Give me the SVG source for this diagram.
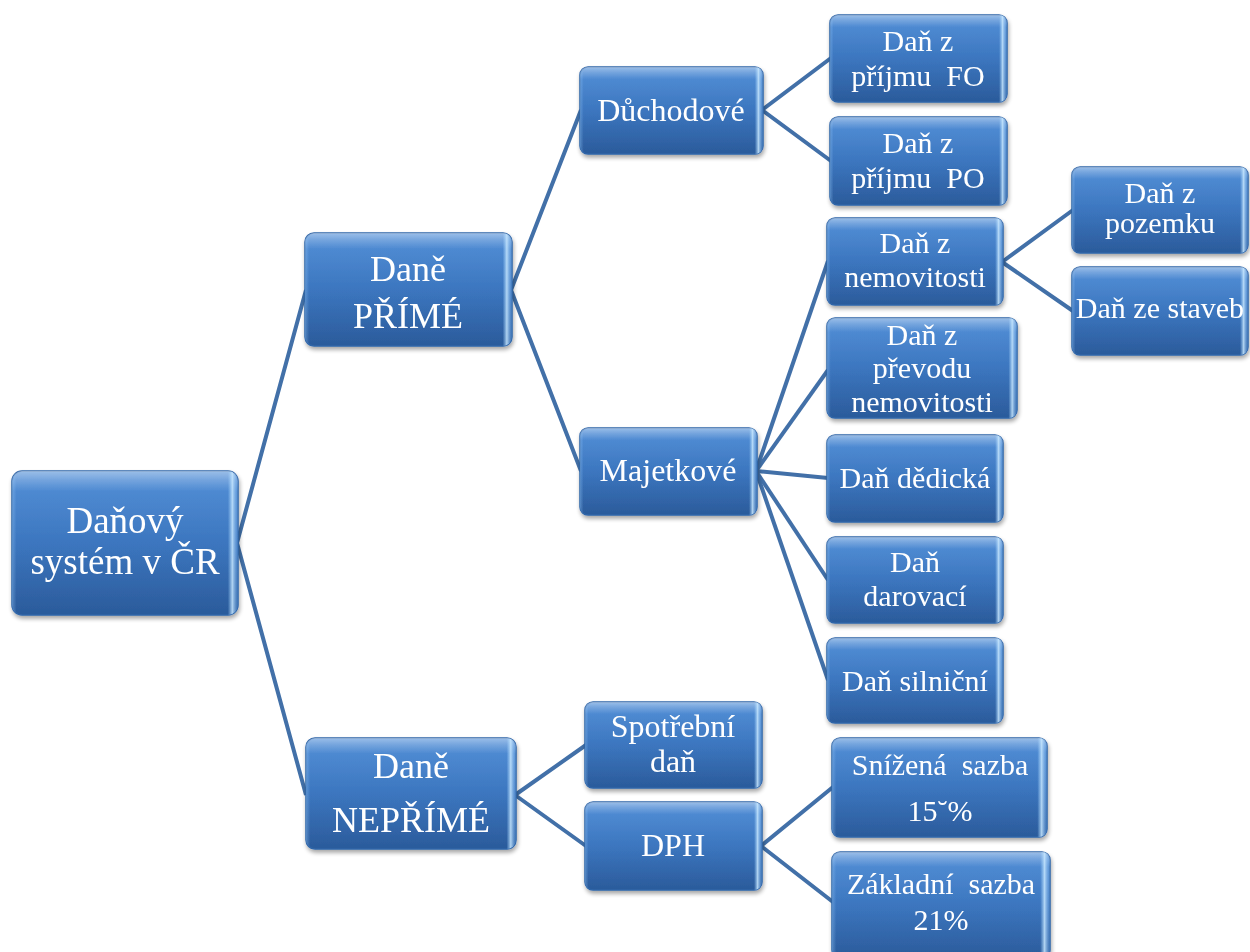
<svg xmlns="http://www.w3.org/2000/svg" width="1250" height="952" viewBox="0 0 1250 952">
<defs>
<linearGradient id="base" x1="0" y1="0" x2="0" y2="1">
<stop offset="0" stop-color="#4a8ad6"/>
<stop offset="0.5" stop-color="#3672bd"/>
<stop offset="1" stop-color="#2b5b9b"/>
</linearGradient>
<linearGradient id="gloss" x1="0" y1="0" x2="0" y2="1">
<stop offset="0" stop-color="#ffffff" stop-opacity="0.45"/>
<stop offset="0.06" stop-color="#ffffff" stop-opacity="0.25"/>
<stop offset="0.14" stop-color="#ffffff" stop-opacity="0.05"/>
<stop offset="1" stop-color="#ffffff" stop-opacity="0"/>
</linearGradient>
<linearGradient id="edge" x1="0" y1="0" x2="1" y2="0">
<stop offset="0" stop-color="#9fd0ff" stop-opacity="0.35"/>
<stop offset="0.02" stop-color="#9fd0ff" stop-opacity="0"/>
<stop offset="0.955" stop-color="#a8d8ff" stop-opacity="0"/>
<stop offset="0.975" stop-color="#c8e8ff" stop-opacity="0.85"/>
<stop offset="1" stop-color="#6fa8e6" stop-opacity="0.2"/>
</linearGradient>
<filter id="sh" x="-10%" y="-10%" width="125%" height="130%">
<feGaussianBlur in="SourceAlpha" stdDeviation="2"/>
<feOffset dx="1" dy="3" result="b"/>
<feComponentTransfer><feFuncA type="linear" slope="0.35"/></feComponentTransfer>
<feMerge><feMergeNode/><feMergeNode in="SourceGraphic"/></feMerge>
</filter>
</defs>
<style>
.b{fill:url(#base);stroke:#2f65a8;stroke-width:1.5}
.g{fill:url(#gloss)}
.e{fill:url(#edge)}
.t{font-family:"Liberation Serif","Times New Roman",serif;fill:#ffffff;text-anchor:middle;white-space:pre}
.f1{font-size:37px}
.f2{font-size:36px}
.f3{font-size:32px}
.f4{font-size:30px}
.c{fill:none;stroke:#4270a8;stroke-width:4;stroke-linejoin:round}
</style>
<rect width="1250" height="952" fill="#ffffff"/>
<g id="connectors">
<polyline class="c" points="306,290 237,543 306,795"/>
<polyline class="c" points="581,110 511,290 581,471"/>
<polyline class="c" points="586,745 515,795 586,846"/>
<polyline class="c" points="831,58 762,110 831,161"/>
<line class="c" x1="756" y1="471" x2="828" y2="261"/>
<line class="c" x1="756" y1="471" x2="828" y2="370"/>
<line class="c" x1="756" y1="471" x2="828" y2="478"/>
<line class="c" x1="756" y1="471" x2="828" y2="580"/>
<line class="c" x1="756" y1="471" x2="828" y2="680"/>
<polyline class="c" points="1073,210 1002,262 1073,311"/>
<polyline class="c" points="833,787 761,846 833,902"/>
</g>
<g id="root" filter="url(#sh)">
<rect class="b" x="12" y="471" width="226" height="144" rx="10"/>
<rect class="g" x="12" y="471" width="226" height="144" rx="10"/>
<rect class="e" x="12" y="471" width="226" height="144" rx="10"/>
<text class="t f1" x="125" y="533">Daňový</text>
<text class="t f1" x="125" y="574">systém v ČR</text>
</g>
<g id="prime" filter="url(#sh)">
<rect class="b" x="305" y="233" width="207" height="113" rx="9"/>
<rect class="g" x="305" y="233" width="207" height="113" rx="9"/>
<rect class="e" x="305" y="233" width="207" height="113" rx="9"/>
<text class="t f2" x="408" y="281">Daně</text>
<text class="t f2" x="408" y="328">PŘÍMÉ</text>
</g>
<g id="neprime" filter="url(#sh)">
<rect class="b" x="306" y="738" width="210" height="111" rx="9"/>
<rect class="g" x="306" y="738" width="210" height="111" rx="9"/>
<rect class="e" x="306" y="738" width="210" height="111" rx="9"/>
<text class="t f2" x="411" y="778">Daně</text>
<text class="t f2" x="411" y="832">NEPŘÍMÉ</text>
</g>
<g id="duchodove" filter="url(#sh)">
<rect class="b" x="580" y="67" width="183" height="87" rx="8"/>
<rect class="g" x="580" y="67" width="183" height="87" rx="8"/>
<rect class="e" x="580" y="67" width="183" height="87" rx="8"/>
<text class="t f3" x="671" y="121">Důchodové</text>
</g>
<g id="majetkove" filter="url(#sh)">
<rect class="b" x="580" y="428" width="177" height="87" rx="8"/>
<rect class="g" x="580" y="428" width="177" height="87" rx="8"/>
<rect class="e" x="580" y="428" width="177" height="87" rx="8"/>
<text class="t f3" x="668" y="481">Majetkové</text>
</g>
<g id="spotrebni" filter="url(#sh)">
<rect class="b" x="585" y="702" width="177" height="86" rx="8"/>
<rect class="g" x="585" y="702" width="177" height="86" rx="8"/>
<rect class="e" x="585" y="702" width="177" height="86" rx="8"/>
<text class="t f3" x="673" y="737">Spotřební</text>
<text class="t f3" x="673" y="772">daň</text>
</g>
<g id="dph" filter="url(#sh)">
<rect class="b" x="585" y="802" width="177" height="88" rx="8"/>
<rect class="g" x="585" y="802" width="177" height="88" rx="8"/>
<rect class="e" x="585" y="802" width="177" height="88" rx="8"/>
<text class="t f3" x="673" y="856">DPH</text>
</g>
<g id="prijem-fo" filter="url(#sh)">
<rect class="b" x="830" y="15" width="177" height="87" rx="8"/>
<rect class="g" x="830" y="15" width="177" height="87" rx="8"/>
<rect class="e" x="830" y="15" width="177" height="87" rx="8"/>
<text class="t f4" x="918" y="51">Daň z</text>
<text class="t f4" x="918" y="86">příjmu  FO</text>
</g>
<g id="prijem-po" filter="url(#sh)">
<rect class="b" x="830" y="117" width="177" height="88" rx="8"/>
<rect class="g" x="830" y="117" width="177" height="88" rx="8"/>
<rect class="e" x="830" y="117" width="177" height="88" rx="8"/>
<text class="t f4" x="918" y="153">Daň z</text>
<text class="t f4" x="918" y="188">příjmu  PO</text>
</g>
<g id="nemovitosti" filter="url(#sh)">
<rect class="b" x="827" y="218" width="176" height="87" rx="8"/>
<rect class="g" x="827" y="218" width="176" height="87" rx="8"/>
<rect class="e" x="827" y="218" width="176" height="87" rx="8"/>
<text class="t f4" x="915" y="253">Daň z</text>
<text class="t f4" x="915" y="287">nemovitosti</text>
</g>
<g id="pozemek" filter="url(#sh)">
<rect class="b" x="1072" y="167" width="176" height="86" rx="8"/>
<rect class="g" x="1072" y="167" width="176" height="86" rx="8"/>
<rect class="e" x="1072" y="167" width="176" height="86" rx="8"/>
<text class="t f4" x="1160" y="203">Daň z</text>
<text class="t f4" x="1160" y="233">pozemku</text>
</g>
<g id="stavby" filter="url(#sh)">
<rect class="b" x="1072" y="267" width="176" height="88" rx="8"/>
<rect class="g" x="1072" y="267" width="176" height="88" rx="8"/>
<rect class="e" x="1072" y="267" width="176" height="88" rx="8"/>
<text class="t f4" x="1160" y="318">Daň ze staveb</text>
</g>
<g id="prevod" filter="url(#sh)">
<rect class="b" x="827" y="318" width="190" height="100" rx="8"/>
<rect class="g" x="827" y="318" width="190" height="100" rx="8"/>
<rect class="e" x="827" y="318" width="190" height="100" rx="8"/>
<text class="t f4" x="922" y="345">Daň z</text>
<text class="t f4" x="922" y="378">převodu</text>
<text class="t f4" x="922" y="412">nemovitosti</text>
</g>
<g id="dedicka" filter="url(#sh)">
<rect class="b" x="827" y="435" width="176" height="87" rx="8"/>
<rect class="g" x="827" y="435" width="176" height="87" rx="8"/>
<rect class="e" x="827" y="435" width="176" height="87" rx="8"/>
<text class="t f4" x="915" y="488">Daň dědická</text>
</g>
<g id="darovaci" filter="url(#sh)">
<rect class="b" x="827" y="537" width="176" height="86" rx="8"/>
<rect class="g" x="827" y="537" width="176" height="86" rx="8"/>
<rect class="e" x="827" y="537" width="176" height="86" rx="8"/>
<text class="t f4" x="915" y="572">Daň</text>
<text class="t f4" x="915" y="606">darovací</text>
</g>
<g id="silnicni" filter="url(#sh)">
<rect class="b" x="827" y="638" width="176" height="85" rx="8"/>
<rect class="g" x="827" y="638" width="176" height="85" rx="8"/>
<rect class="e" x="827" y="638" width="176" height="85" rx="8"/>
<text class="t f4" x="915" y="691">Daň silniční</text>
</g>
<g id="snizena" filter="url(#sh)">
<rect class="b" x="832" y="738" width="215" height="99" rx="8"/>
<rect class="g" x="832" y="738" width="215" height="99" rx="8"/>
<rect class="e" x="832" y="738" width="215" height="99" rx="8"/>
<text class="t f4" x="940" y="775">Snížená  sazba</text>
<text class="t f4" x="940" y="821">15˘%</text>
</g>
<g id="zakladni" filter="url(#sh)">
<rect class="b" x="832" y="852" width="218" height="106" rx="8"/>
<rect class="g" x="832" y="852" width="218" height="106" rx="8"/>
<rect class="e" x="832" y="852" width="218" height="106" rx="8"/>
<text class="t f4" x="941" y="894">Základní  sazba</text>
<text class="t f4" x="941" y="930">21%</text>
</g>
</svg>
